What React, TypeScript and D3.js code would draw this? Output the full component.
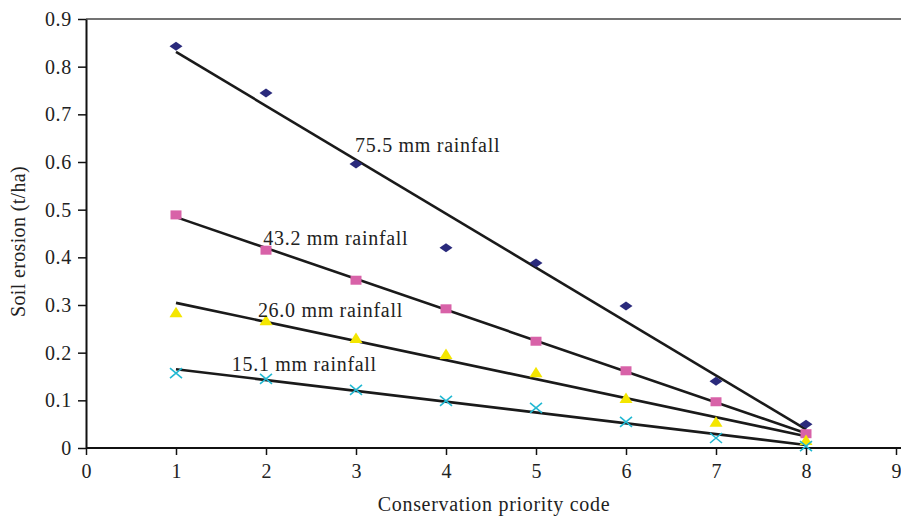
import { useEffect, useRef } from "react";
import * as d3 from "d3";

const codes = [1, 2, 3, 4, 5, 6, 7, 8];
const rain75 = [0.843, 0.745, 0.596, 0.42, 0.388, 0.298, 0.14, 0.05];
const rain43 = [0.489, 0.415, 0.352, 0.292, 0.224, 0.162, 0.097, 0.03];
const rain26 = [0.285, 0.268, 0.231, 0.197, 0.159, 0.105, 0.055, 0.017];
const rain15 = [0.157, 0.145, 0.122, 0.099, 0.084, 0.055, 0.021, 0.004];
const seriesNames = ["75.5 mm rainfall", "43.2 mm rainfall", "26.0 mm rainfall", "15.1 mm rainfall"];
// where each label sits, in data units
const labelAt: [number, number][] = [[2.99, 0.62], [1.97, 0.425], [1.91, 0.274], [1.62, 0.162]];
const xTicks = [0, 1, 2, 3, 4, 5, 6, 7, 8, 9];
const yTicks = [0, 0.1, 0.2, 0.3, 0.4, 0.5, 0.6, 0.7, 0.8, 0.9];

const C_DIAM = "#2a2a7c";
const C_SQ = "#d862a8";
const C_TRI = "#f4e600";
const C_X = "#22b8d2";
const FONT = "'Liberation Serif', 'Times New Roman', serif";
const FS = 20;
const LS = 0.7;

function ols(xs: number[], ys: number[]) {
  const mx = d3.mean(xs)!, my = d3.mean(ys)!;
  const sxy = d3.sum(xs, (x, i) => (x - mx) * (ys[i] - my));
  const sxx = d3.sum(xs, x => (x - mx) ** 2);
  const b = sxy / sxx;
  return { b, a: my - b * mx };
}

export default function App() {
  const svgRef = useRef<SVGSVGElement>(null);

  useEffect(() => {
    const svg = d3.select(svgRef.current);
    svg.selectAll("*").remove();

    const x = d3.scaleLinear().domain([0, 9]).range([86, 896]);
    const y = d3.scaleLinear().domain([0, 0.9]).range([448, 19]);
    const g = svg.append("g");

    // top frame line
    g.append("line")
      .attr("x1", x(0)).attr("x2", 901).attr("y1", y(0.9)).attr("y2", y(0.9))
      .attr("stroke", "#444").attr("stroke-width", 1.5);

    // axes
    g.append("g").attr("transform", `translate(0,${y(0)})`)
      .call(d3.axisBottom(x).tickValues(xTicks).tickSize(7).tickSizeOuter(0).tickFormat(d3.format("d")))
      .call(ax => ax.select(".domain").attr("stroke", "#111").attr("stroke-width", 2).attr("d", `M${x(0)},0H901`))
      .call(ax => ax.selectAll(".tick line").attr("stroke", "#111").attr("stroke-width", 1.5))
      .call(ax => ax.selectAll(".tick text").attr("fill", "#222").attr("font-size", FS).attr("font-family", FONT).attr("dy", "0.98em"));

    g.append("g").attr("transform", `translate(${x(0)},0)`)
      .call(d3.axisLeft(y).tickValues(yTicks).tickSize(8).tickSizeOuter(0).tickFormat(d => d === 0 ? "0" : d3.format(".1f")(d as number)))
      .call(ax => ax.select(".domain").attr("stroke", "#111").attr("stroke-width", 2))
      .call(ax => ax.selectAll(".tick line").attr("stroke", "#111").attr("stroke-width", 1.5))
      .call(ax => ax.selectAll(".tick text").attr("fill", "#222").attr("font-size", FS).attr("font-family", FONT)
        .attr("letter-spacing", LS).attr("x", -14));

    // axis titles
    g.append("text").attr("x", 494).attr("y", 511).attr("text-anchor", "middle")
      .attr("font-family", FONT).attr("font-size", FS).attr("letter-spacing", LS).attr("fill", "#222")
      .text("Conservation priority code");
    g.append("text").attr("transform", `translate(25,${y(0.45) + 8}) rotate(-90)`).attr("text-anchor", "middle")
      .attr("font-family", FONT).attr("font-size", FS).attr("letter-spacing", LS * 0.5).attr("fill", "#222")
      .text("Soil erosion (t/ha)");

    const all = [rain75, rain43, rain26, rain15];

    // trend lines
    all.forEach(vals => {
      const { a, b } = ols(codes, vals);
      g.append("line")
        .attr("x1", x(1)).attr("y1", y(a + b * 1))
        .attr("x2", x(8)).attr("y2", y(a + b * 8))
        .attr("stroke", "#1a1a1a").attr("stroke-width", 2.6);
    });

    // markers
    g.selectAll(".diam").data(rain75).enter().append("path")
      .attr("d", (d, i) => `M${x(codes[i]) - 6.5},${y(d)}L${x(codes[i])},${y(d) - 4.5}L${x(codes[i]) + 6.5},${y(d)}L${x(codes[i])},${y(d) + 4.5}Z`)
      .attr("fill", C_DIAM);
    g.selectAll(".sq").data(rain43).enter().append("rect")
      .attr("x", (d, i) => x(codes[i]) - 5.5).attr("y", d => y(d) - 4.5)
      .attr("width", 11).attr("height", 9).attr("fill", C_SQ);
    g.selectAll(".tri").data(rain26).enter().append("path")
      .attr("d", (d, i) => `M${x(codes[i]) - 6.5},${y(d) + 5}L${x(codes[i])},${y(d) - 5.5}L${x(codes[i]) + 6.5},${y(d) + 5}Z`)
      .attr("fill", C_TRI);
    g.selectAll(".xm").data(rain15).enter().append("path")
      .attr("d", (d, i) => `M${x(codes[i]) - 6},${y(d) - 5}L${x(codes[i]) + 6},${y(d) + 5}M${x(codes[i]) - 6},${y(d) + 5}L${x(codes[i]) + 6},${y(d) - 5}`)
      .attr("stroke", C_X).attr("stroke-width", 1.6).attr("fill", "none");

    // series labels
    seriesNames.forEach((name, i) => {
      g.append("text").attr("x", x(labelAt[i][0])).attr("y", y(labelAt[i][1]))
        .attr("font-family", FONT).attr("font-size", FS).attr("letter-spacing", LS).attr("fill", "#222")
        .text(name);
    });
  }, []);

  return <svg ref={svgRef} width={901} height={517} style={{ position: "absolute", left: 0, top: 0 }} />;
}
